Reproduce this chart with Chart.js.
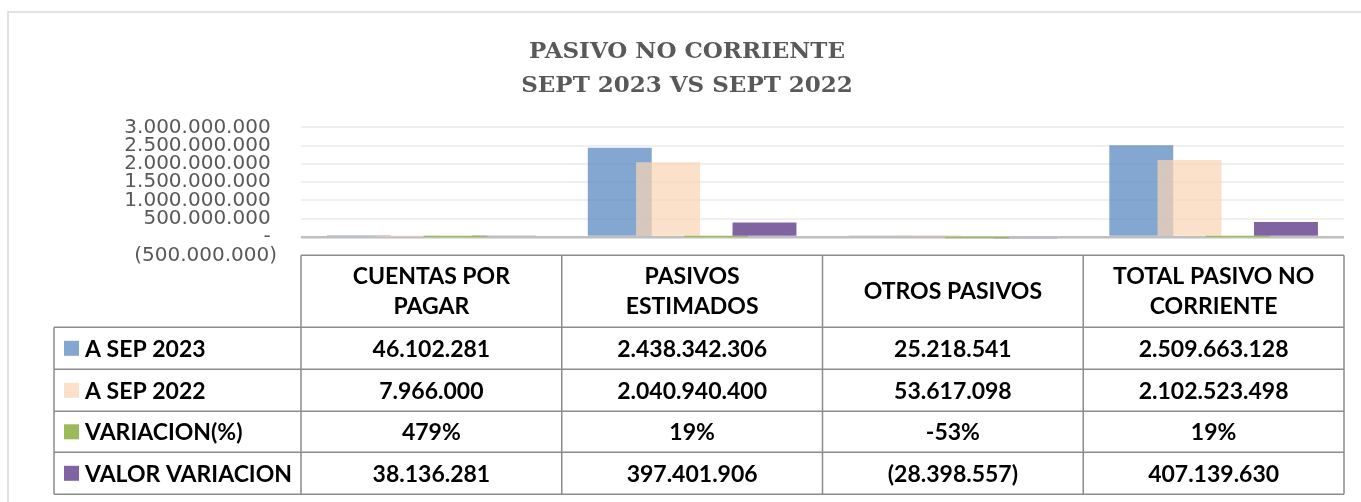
<!DOCTYPE html>
<html><head><meta charset="utf-8">
<script src="https://cdn.jsdelivr.net/npm/chart.js@4.4.1/dist/chart.umd.min.js"></script>
<style>html,body{margin:0;padding:0;background:#fff;overflow:hidden}canvas{display:block}</style>
</head><body>
<canvas id="c" width="1361" height="502"></canvas>
<script>
// ---- data ----
const categories = [['CUENTAS POR', 'PAGAR'], ['PASIVOS', 'ESTIMADOS'], ['OTROS PASIVOS'], ['TOTAL PASIVO NO', 'CORRIENTE']];
const seriesNames = ['A SEP 2023', 'A SEP 2022', 'VARIACION(%)', 'VALOR VARIACION'];
const sep2023 = [46102281, 2438342306, 25218541, 2509663128];
const sep2022 = [7966000, 2040940400, 53617098, 2102523498];
const variacionPct = [4.79, 0.19, -0.53, 0.19];
const valorVariacion = [38136281, 397401906, -28398557, 407139630];
const yTicks = [-500000000, 0, 500000000, 1000000000, 1500000000, 2000000000, 2500000000, 3000000000];
const titleLines = ['PASIVO NO CORRIENTE', 'SEPT 2023 VS SEPT 2022'];

// ---- formatting ----
function thousands(n) { return String(Math.round(Math.abs(n))).replace(/\B(?=(\d{3})+(?!\d))/g, '.'); }
function acct(n) { return n < 0 ? '(' + thousands(n) + ')' : thousands(n); }
function pct(n) { return Math.round(n * 100) + '%'; }
function tickLabel(v) { return v === 0 ? '- ' : (v < 0 ? '(' + thousands(v) + ')' : thousands(v) + ' '); }

const seriesColors = ['rgba(79,129,189,0.7)', 'rgba(251,212,180,0.7)', 'rgb(155,187,89)', 'rgb(128,100,162)'];
const seriesData = [sep2023, sep2022, variacionPct, valorVariacion];
const seriesFmt = [acct, acct, pct, acct];

const TABLE_FONT = 'bold 23px Lato';
const LABEL_LEFT = 54;
const HEADER_H = 72;
const ROW_H = [42, 42, 41, 42];

const borderPlugin = {
  id: 'outerBorder',
  beforeDraw(chart) {
    const ctx = chart.ctx;
    ctx.save();
    ctx.strokeStyle = '#d9d9d9';
    ctx.lineWidth = 1.5;
    ctx.beginPath();
    ctx.moveTo(8, chart.height);
    ctx.lineTo(8, 12);
    ctx.lineTo(chart.width, 12);
    ctx.stroke();
    ctx.restore();
  }
};

// draw datasets first-to-last so later series sit on top of earlier ones
const drawOrderPlugin = {
  id: 'drawOrder',
  beforeDatasetsDraw(chart) {
    for (let i = 0; i < chart.data.datasets.length; i++) {
      const meta = chart.getDatasetMeta(i);
      if (chart.isDatasetVisible(i)) meta.controller.draw();
    }
    return false;
  }
};

const tablePlugin = {
  id: 'dataTable',
  afterDraw(chart) {
    const ctx = chart.ctx;
    const xs = chart.scales.x;
    const ys = chart.scales.y;
    const top = ys.getPixelForValue(yTicks[0]);
    const step = xs.getPixelForValue(1) - xs.getPixelForValue(0);
    const colEdges = categories.map((c, i) => xs.getPixelForValue(i) - step / 2);
    colEdges.push(xs.getPixelForValue(categories.length - 1) + step / 2);
    const rowEdges = [top + HEADER_H];
    ROW_H.forEach(h => rowEdges.push(rowEdges[rowEdges.length - 1] + h));
    const bottom = rowEdges[rowEdges.length - 1];

    ctx.save();
    ctx.strokeStyle = '#8c8c8c';
    ctx.lineWidth = 1.5;
    ctx.beginPath();
    ctx.moveTo(colEdges[0], top); ctx.lineTo(colEdges[colEdges.length - 1], top);
    rowEdges.forEach(y => { ctx.moveTo(LABEL_LEFT, y); ctx.lineTo(colEdges[colEdges.length - 1], y); });
    colEdges.forEach(x => { ctx.moveTo(x, top); ctx.lineTo(x, bottom); });
    ctx.moveTo(LABEL_LEFT, rowEdges[0]); ctx.lineTo(LABEL_LEFT, bottom);
    ctx.stroke();

    ctx.fillStyle = '#000';
    ctx.font = TABLE_FONT;
    ctx.textAlign = 'center';
    ctx.textBaseline = 'middle';
    const hMid = top + HEADER_H / 2;
    categories.forEach((lines, i) => {
      const cx = xs.getPixelForValue(i);
      lines.forEach((t, k) => {
        ctx.fillText(t, cx, hMid + (k - (lines.length - 1) / 2) * 30);
      });
    });
    seriesNames.forEach((name, r) => {
      const cy = (rowEdges[r] + rowEdges[r + 1]) / 2;
      ctx.fillStyle = seriesColors[r];
      ctx.fillRect(64, cy - 7.5, 15, 15);
      ctx.fillStyle = '#000';
      ctx.textAlign = 'left';
      ctx.fillText(name, 85, cy + 1);
      ctx.textAlign = 'center';
      seriesData[r].forEach((v, c) => {
        ctx.fillText(seriesFmt[r](v), xs.getPixelForValue(c), cy + 1);
      });
    });
    ctx.restore();
  }
};

new Chart(document.getElementById('c'), {
  type: 'bar',
  data: {
    labels: categories.map(c => c.join(' ')),
    datasets: seriesNames.map((name, i) => ({
      label: name,
      data: seriesData[i],
      backgroundColor: seriesColors[i],
      borderWidth: 0,
      categoryPercentage: 0.74,
      barPercentage: 1.325
    }))
  },
  options: {
    responsive: false,
    animation: false,
    layout: { padding: { left: 30, right: 17, top: 0, bottom: 246.7 } },
    plugins: {
      legend: { display: false },
      tooltip: { enabled: false },
      title: {
        display: true,
        text: titleLines,
        color: '#595959',
        font: { family: 'DejaVu Serif', weight: 'bold', size: 23, lineHeight: 34 / 23 },
        padding: { top: 35, bottom: 24.3 }
      }
    },
    scales: {
      x: { display: false, grid: { display: false } },
      y: {
        min: yTicks[0],
        max: yTicks[yTicks.length - 1],
        afterBuildTicks(scale) { scale.ticks = yTicks.map(v => ({ value: v })); },
        afterFit(scale) { scale.width = 271; },
        border: { display: false },
        grid: {
          drawTicks: false,
          color: c => c.tick.value === 0 ? '#bfbfbf' : (c.tick.value < 0 ? 'rgba(0,0,0,0)' : '#f0f0f0'),
          lineWidth: c => c.tick.value === 0 ? 2.5 : 2
        },
        ticks: {
          autoSkip: false,
          padding: 24,
          color: '#595959',
          font: { family: 'DejaVu Sans', size: 20 },
          callback: v => tickLabel(v)
        }
      }
    }
  },
  plugins: [borderPlugin, drawOrderPlugin, tablePlugin]
});
</script>
</body></html>
